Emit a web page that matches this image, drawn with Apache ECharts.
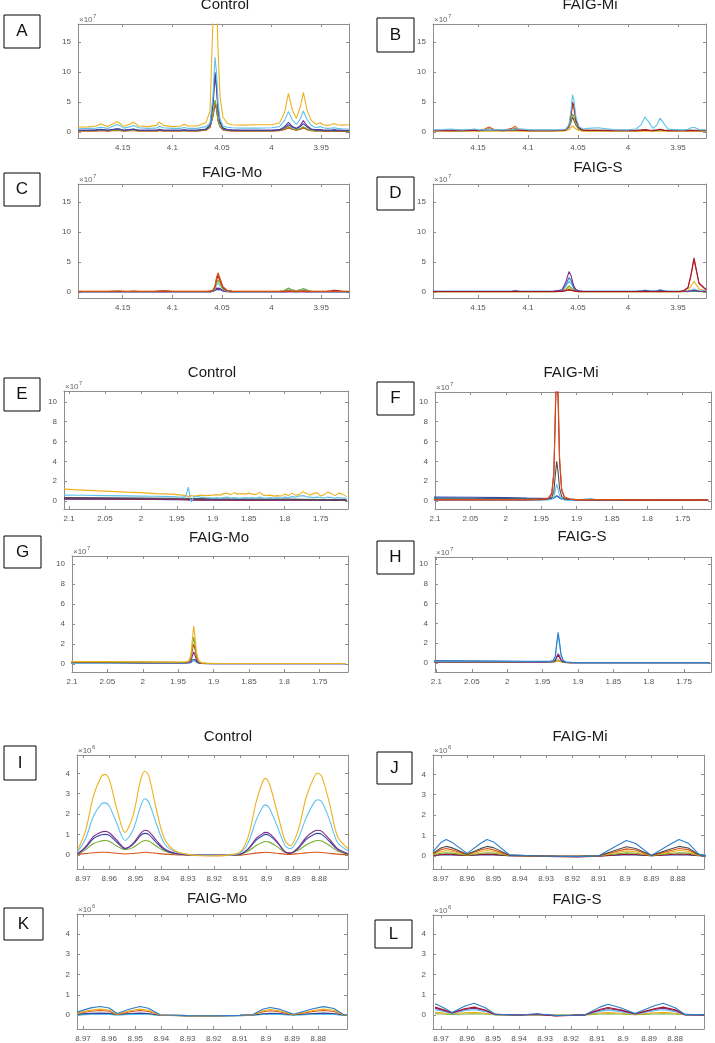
<!DOCTYPE html>
<html><head><meta charset="utf-8">
<script src="https://cdn.jsdelivr.net/npm/echarts@6/dist/echarts.min.js"></script>
<style>html,body{margin:0;padding:0;background:#fff}#c{width:715px;height:1043px}</style>
</head><body><div id="c"></div>
<script>
// ---------- tick labels ----------
const xTicksR1 = [4.15, 4.1, 4.05, 4, 3.95];
const yTicksR1 = [0, 5, 10, 15];
const xTicksR2 = [2.1, 2.05, 2, 1.95, 1.9, 1.85, 1.8, 1.75];
const yTicksR2 = [0, 2, 4, 6, 8, 10];
const xTicksR3 = [8.97, 8.96, 8.95, 8.94, 8.93, 8.92, 8.91, 8.9, 8.89, 8.88];
const yTicksR3 = [0, 1, 2, 3, 4];

// ---------- row 1 (ppm 4.195 - 3.922), values x1e7 ----------
const xR1 = [4.195,4.185,4.177,4.172,4.165,4.156,4.153,4.149,4.143,4.139, 4.134,4.125,4.116,4.113,4.109,4.1,4.092,4.088,4.084,4.075, 4.066,4.062,4.059,4.057,4.0555,4.054,4.052,4.049,4.045,4.04, 4.03,4.015,4.0,3.992,3.987,3.983,3.979,3.975,3.971,3.968, 3.964,3.96,3.955,3.951,3.948,3.944,3.94,3.937,3.934,3.929,3.922];

const A_yellow = [0.8,0.85,1.0,1.35,0.9,1.7,1.5,0.95,1.3,1.65, 1.0,0.9,1.1,1.65,1.1,0.9,0.95,1.3,1.0,1.0, 1.6,3.5,19,30,24,14,6,2.5,1.5,1.2, 1.15,1.2,1.2,1.5,3.2,6.45,3.6,2.3,4.2,6.6, 3.5,1.9,1.3,1.55,1.2,1.1,1.2,1.4,1.2,1.15,1.2];
const A_lightblue = [0.55,0.6,0.65,0.8,0.6,1.25,1.1,0.65,0.85,1.1, 0.7,0.6,0.65,0.95,0.7,0.6,0.6,0.75,0.6,0.6, 0.9,1.5,6,12.5,10,5,2.2,1.0,0.8,0.7, 0.65,0.65,0.7,0.9,1.9,3.4,2.0,1.25,2.2,3.5, 2.0,1.1,0.7,0.9,0.7,0.6,0.65,0.7,0.6,0.55,0.5];
const A_navy = [0.3,0.3,0.35,0.45,0.3,0.55,0.5,0.3,0.4,0.5, 0.3,0.3,0.3,0.45,0.3,0.3,0.3,0.35,0.3,0.3, 0.5,1.2,5,10,8,4,1.8,0.7,0.4,0.35, 0.3,0.3,0.3,0.4,0.9,1.6,0.9,0.6,0.9,1.4, 0.8,0.45,0.35,0.4,0.3,0.3,0.3,0.35,0.3,0.3,0.25];
const A_purple = [0.3,0.3,0.3,0.4,0.3,0.5,0.45,0.3,0.35,0.45, 0.3,0.3,0.3,0.4,0.3,0.3,0.3,0.3,0.3,0.3, 0.45,1.1,4.5,9.2,7.4,3.7,1.6,0.6,0.4,0.3, 0.3,0.3,0.3,0.35,0.7,1.2,0.8,0.6,1.1,1.9, 1.0,0.5,0.35,0.4,0.3,0.3,0.3,0.35,0.3,0.3,0.25];
const A_green = [0.2,0.2,0.2,0.3,0.2,0.35,0.3,0.2,0.25,0.3, 0.2,0.2,0.2,0.3,0.2,0.2,0.2,0.25,0.2,0.2, 0.35,0.9,3,5.3,4.3,2.2,1.0,0.4,0.3,0.25, 0.2,0.2,0.2,0.3,0.6,0.9,0.55,0.4,0.6,0.9, 0.5,0.3,0.2,0.25,0.2,0.2,0.2,0.25,0.2,0.2,0.2];
const A_orange = [0.15,0.15,0.15,0.2,0.15,0.25,0.2,0.15,0.2,0.2, 0.15,0.15,0.15,0.2,0.15,0.15,0.15,0.2,0.15,0.15, 0.3,0.8,2.8,4.9,4.0,2.0,0.9,0.35,0.2,0.15, 0.15,0.15,0.15,0.2,0.4,0.7,0.45,0.3,0.45,0.7, 0.4,0.2,0.15,0.2,0.15,0.15,0.15,0.2,0.15,0.15,0.15];
const A_gray = [0.25,0.25,0.25,0.3,0.25,0.35,0.3,0.25,0.25,0.3, 0.25,0.25,0.25,0.3,0.25,0.25,0.25,0.25,0.25,0.25, 0.35,0.8,2.6,4.7,3.8,1.9,0.9,0.4,0.25,0.25, 0.2,0.2,0.2,0.25,0.45,0.7,0.45,0.35,0.45,0.7, 0.4,0.25,0.2,0.2,0.15,0.15,0.15,0.15,0.1,0.1,0.05];

const B_lightblue = [0.35,0.4,0.5,0.4,0.35,0.45,0.5,0.35,0.35,0.4, 0.35,0.35,0.4,0.45,0.55,0.4,0.35,0.35,0.35,0.35, 0.4,0.5,1.2,3.5,6.2,5.2,2.4,0.9,0.5,0.6, 0.7,0.4,0.35,0.5,1.2,2.5,1.6,0.6,1.2,2.3, 1.4,0.5,0.4,0.4,0.35,0.35,0.45,0.7,0.8,0.4,0.35];
const B_darkred = [0.2,0.2,0.2,0.25,0.2,0.25,0.25,0.2,0.3,0.45, 0.3,0.2,0.35,0.5,0.3,0.2,0.2,0.2,0.2,0.2, 0.3,0.4,1.1,3.0,5.0,4.3,2.0,0.7,0.3,0.25, 0.25,0.2,0.2,0.2,0.25,0.35,0.25,0.2,0.3,0.45, 0.3,0.2,0.2,0.2,0.2,0.2,0.2,0.25,0.2,0.2,0.2];
const B_orange = [0.25,0.25,0.25,0.3,0.25,0.3,0.3,0.3,0.5,0.85, 0.4,0.3,0.6,0.95,0.4,0.3,0.25,0.3,0.25,0.25, 0.3,0.4,1.0,2.6,4.4,3.8,1.8,0.7,0.35,0.3, 0.3,0.25,0.25,0.25,0.3,0.4,0.3,0.25,0.3,0.45, 0.3,0.25,0.25,0.25,0.25,0.25,0.25,0.3,0.25,0.25,0.25];
const B_green = [0.2,0.2,0.2,0.2,0.2,0.25,0.25,0.2,0.35,0.55, 0.3,0.2,0.4,0.6,0.3,0.2,0.2,0.2,0.2,0.2, 0.25,0.35,0.8,1.8,3.0,2.6,1.3,0.45,0.25,0.2, 0.2,0.2,0.2,0.2,0.25,0.3,0.25,0.2,0.25,0.3, 0.25,0.2,0.2,0.2,0.2,0.2,0.2,0.2,0.2,0.2,0.2];
const B_gray = [0.3,0.3,0.3,0.3,0.3,0.35,0.35,0.3,0.3,0.35, 0.3,0.3,0.3,0.35,0.3,0.3,0.3,0.3,0.3,0.3, 0.3,0.4,0.8,1.6,2.5,2.2,1.1,0.45,0.3,0.3, 0.3,0.3,0.3,0.3,0.35,0.4,0.3,0.3,0.35,0.4, 0.3,0.3,0.3,0.3,0.3,0.3,0.3,0.3,0.3,0.3,0.3];
const B_yellow = [0.15,0.15,0.15,0.15,0.15,0.15,0.15,0.15,0.15,0.15, 0.15,0.15,0.15,0.15,0.15,0.15,0.15,0.15,0.15,0.15, 0.15,0.2,0.4,0.7,1.0,0.9,0.5,0.25,0.15,0.15, 0.15,0.15,0.15,0.15,0.15,0.15,0.15,0.15,0.15,0.15, 0.15,0.15,0.15,0.15,0.15,0.15,0.15,0.15,0.15,0.15,0.15];

const C_orange = [0.1,0.1,0.1,0.1,0.1,0.12,0.12,0.1,0.1,0.12, 0.1,0.1,0.12,0.15,0.2,0.1,0.1,0.1,0.1,0.1, 0.1,0.12,0.35,1.0,2.4,3.2,2.3,0.9,0.3,0.12, 0.1,0.1,0.1,0.1,0.12,0.2,0.15,0.1,0.15,0.2, 0.12,0.1,0.1,0.1,0.1,0.1,0.1,0.12,0.1,0.1,0.1];
const C_darkred = [0.08,0.08,0.08,0.08,0.08,0.1,0.1,0.08,0.08,0.1, 0.08,0.08,0.1,0.12,0.15,0.08,0.08,0.08,0.08,0.08, 0.08,0.1,0.3,0.9,2.1,2.8,2.0,0.75,0.25,0.1, 0.08,0.08,0.08,0.08,0.1,0.15,0.12,0.08,0.12,0.15, 0.1,0.08,0.08,0.08,0.08,0.1,0.2,0.3,0.25,0.1,0.08];
const C_yellow = [0.12,0.12,0.12,0.12,0.12,0.14,0.14,0.12,0.12,0.14, 0.12,0.12,0.14,0.16,0.2,0.12,0.12,0.12,0.12,0.12, 0.12,0.14,0.3,0.85,1.9,2.5,1.8,0.7,0.25,0.14, 0.12,0.12,0.12,0.12,0.14,0.2,0.15,0.12,0.15,0.2, 0.14,0.12,0.12,0.12,0.12,0.12,0.12,0.14,0.12,0.12,0.12];
const C_green = [0.08,0.08,0.08,0.08,0.08,0.1,0.1,0.08,0.08,0.1, 0.08,0.08,0.1,0.12,0.15,0.08,0.08,0.08,0.08,0.08, 0.08,0.1,0.25,0.7,1.5,2.0,1.45,0.55,0.2,0.1, 0.08,0.08,0.08,0.1,0.3,0.65,0.35,0.2,0.35,0.55, 0.3,0.12,0.08,0.08,0.08,0.08,0.08,0.1,0.08,0.08,0.08];
const C_lightblue = [0.05,0.05,0.05,0.05,0.05,0.07,0.07,0.05,0.05,0.07, 0.05,0.05,0.07,0.09,0.1,0.05,0.05,0.05,0.05,0.05, 0.05,0.07,0.2,0.55,1.15,1.5,1.1,0.45,0.15,0.07, 0.05,0.05,0.05,0.07,0.25,0.5,0.3,0.2,0.35,0.6, 0.35,0.1,0.05,0.05,0.05,0.05,0.05,0.07,0.05,0.05,0.05];
const C_purple = [0.05,0.05,0.05,0.05,0.05,0.05,0.05,0.05,0.05,0.05, 0.05,0.05,0.05,0.05,0.05,0.05,0.05,0.05,0.05,0.05, 0.05,0.05,0.12,0.3,0.65,0.85,0.6,0.25,0.08,0.05, 0.05,0.05,0.05,0.05,0.05,0.05,0.05,0.05,0.05,0.05, 0.05,0.05,0.05,0.05,0.05,0.05,0.05,0.05,0.05,0.05,0.05];
const C_navy = [0.02,0.02,0.02,0.02,0.02,0.02,0.02,0.02,0.02,0.02, 0.02,0.02,0.02,0.02,0.02,0.02,0.02,0.02,0.02,0.02, 0.02,0.02,0.08,0.2,0.42,0.55,0.4,0.15,0.05,0.02, 0.02,0.02,0.02,0.02,0.02,0.04,0.03,0.02,0.03,0.04, 0.02,0.02,0.02,0.02,0.02,0.02,0.02,0.02,0.02,0.02,0.02];

const D_purple = [0.08,0.08,0.08,0.08,0.08,0.08,0.08,0.08,0.08,0.08, 0.08,0.08,0.1,0.12,0.1,0.08,0.08,0.08,0.08,0.08, 0.35,1.75,3.4,2.75,1.75,0.9,0.4,0.15,0.08,0.08, 0.08,0.08,0.08,0.08,0.1,0.15,0.1,0.08,0.1,0.15, 0.1,0.08,0.08,0.08,0.08,0.09,0.12,0.2,0.3,0.12,0.08];
const D_darkred = [0.08,0.08,0.08,0.08,0.08,0.08,0.08,0.08,0.08,0.08, 0.08,0.08,0.08,0.1,0.08,0.08,0.08,0.08,0.08,0.08, 0.1,0.25,0.4,0.35,0.25,0.15,0.1,0.08,0.08,0.08, 0.08,0.08,0.08,0.08,0.08,0.1,0.08,0.08,0.08,0.1, 0.08,0.08,0.08,0.08,0.08,0.25,0.75,2.9,5.7,1.5,0.4];
const D_orange = [0.06,0.06,0.06,0.06,0.06,0.06,0.06,0.06,0.06,0.06, 0.06,0.06,0.06,0.08,0.06,0.06,0.06,0.06,0.06,0.06, 0.08,0.2,0.3,0.26,0.2,0.12,0.08,0.06,0.06,0.06, 0.06,0.06,0.06,0.06,0.06,0.08,0.06,0.06,0.06,0.08, 0.06,0.06,0.06,0.06,0.06,0.22,0.7,2.75,5.4,1.4,0.38];
const D_blue = [0.1,0.1,0.1,0.1,0.1,0.1,0.1,0.1,0.1,0.1, 0.1,0.1,0.12,0.2,0.12,0.1,0.1,0.1,0.1,0.1, 0.28,1.25,2.4,1.95,1.25,0.65,0.3,0.14,0.1,0.1, 0.1,0.1,0.1,0.12,0.18,0.3,0.2,0.15,0.22,0.35, 0.2,0.12,0.1,0.1,0.1,0.1,0.12,0.15,0.2,0.12,0.1];
const D_lightblue = [0.12,0.12,0.12,0.12,0.12,0.12,0.12,0.12,0.12,0.12, 0.12,0.12,0.13,0.16,0.13,0.12,0.12,0.12,0.12,0.12, 0.25,0.95,1.8,1.45,0.95,0.5,0.25,0.14,0.12,0.12, 0.12,0.12,0.12,0.13,0.18,0.3,0.2,0.16,0.2,0.3, 0.18,0.13,0.12,0.12,0.12,0.13,0.17,0.3,0.5,0.2,0.12];
const D_green = [0.05,0.05,0.05,0.05,0.05,0.05,0.05,0.05,0.05,0.05, 0.05,0.05,0.05,0.07,0.05,0.05,0.05,0.05,0.05,0.05, 0.12,0.52,1.0,0.82,0.53,0.28,0.13,0.07,0.05,0.05, 0.05,0.05,0.05,0.05,0.06,0.1,0.07,0.05,0.07,0.1, 0.06,0.05,0.05,0.05,0.05,0.05,0.06,0.1,0.15,0.07,0.05];
const D_yellow = [0.04,0.04,0.04,0.04,0.04,0.04,0.04,0.04,0.04,0.04, 0.04,0.04,0.04,0.05,0.04,0.04,0.04,0.04,0.04,0.04, 0.09,0.37,0.7,0.58,0.38,0.2,0.09,0.05,0.04,0.04, 0.04,0.04,0.04,0.04,0.04,0.05,0.04,0.04,0.04,0.05, 0.04,0.04,0.04,0.04,0.04,0.09,0.25,0.95,1.8,0.5,0.15];

// ---------- row 2 (ppm 2.107 - 1.71), values x1e7 ----------
const xE = [2.107,2.08,2.05,2.02,2.0,1.98,1.96,1.95,1.942,1.938, 1.936,1.934,1.932,1.93,1.928,1.926,1.924,1.921,1.917,1.91, 1.9,1.895,1.89,1.885,1.88,1.875,1.87,1.865,1.86,1.855, 1.85,1.845,1.84,1.835,1.83,1.825,1.82,1.815,1.81,1.805, 1.8,1.795,1.79,1.785,1.78,1.775,1.77,1.765,1.76,1.755, 1.75,1.745,1.74,1.735,1.73,1.725,1.72,1.714];
const E_yellow = [1.2,1.1,1.0,0.9,0.85,0.75,0.7,0.65,0.6,0.55, 0.5,0.45,0.5,0.55,0.55,0.5,0.5,0.55,0.6,0.55, 0.6,0.65,0.6,0.75,0.8,0.65,0.85,0.7,0.75,0.7, 0.8,0.7,0.65,0.9,0.6,0.55,0.6,0.5,0.55,0.5, 0.7,0.55,0.8,0.6,0.65,0.95,0.8,0.6,0.75,0.85, 0.5,0.65,0.9,0.75,0.55,0.8,0.7,0.45];
const E_lightblue = [0.6,0.58,0.55,0.52,0.5,0.48,0.45,0.42,0.4,0.45, 0.9,1.4,0.5,-0.1,0.2,0.45,0.5,0.45,0.4,0.35, 0.3,0.35,0.3,0.35,0.4,0.3,0.35,0.3,0.3,0.35, 0.3,0.35,0.3,0.4,0.3,0.3,0.35,0.3,0.35,0.3, 0.4,0.35,0.45,0.4,0.5,0.55,0.45,0.4,0.35,0.4, 0.35,0.3,0.4,0.35,0.3,0.35,0.3,0.3];
const xEs = [2.107,2.0,1.96,1.94,1.93,1.92,1.9,1.85,1.8,1.75,1.714];
const E_gray = [0.35,0.3,0.28,0.28,0.25,0.25,0.22,0.2,0.2,0.15,0.1];
const E_darkred = [0.25,0.2,0.18,0.15,0.12,0.12,0.12,0.1,0.12,0.15,0.12];
const E_navy = [0.2,0.18,0.15,0.15,0.12,0.1,0.1,0.1,0.08,0.08,0.05];
const E_purple = [0.3,0.25,0.22,0.2,0.2,0.18,0.18,0.15,0.15,0.12,0.1];

const xFGH = [2.107,2.05,2.0,1.97,1.95,1.94,1.935,1.932,1.93,1.928, 1.926,1.924,1.921,1.917,1.91,1.9,1.88,1.87,1.85,1.8,1.75,1.714];
const F_orange = [0.15,0.15,0.15,0.15,0.2,0.3,0.8,3,9,16, 11,4.5,1.2,0.4,0.2,0.15,0.15,0.15,0.15,0.12,0.12,0.1];
const F_darkred = [0.12,0.12,0.12,0.12,0.15,0.25,0.7,2.8,8.5,14, 10,4,1.1,0.35,0.18,0.12,0.12,0.12,0.12,0.1,0.1,0.1];
const F_gray = [0.2,0.2,0.2,0.2,0.2,0.25,0.35,1.0,2.6,4.0, 2.9,1.3,0.45,0.22,0.2,0.15,0.15,0.15,0.12,0.12,0.1,0.1];
const F_lightblue = [0.1,0.1,0.1,0.1,0.1,0.12,0.18,0.45,1.1,1.7, 1.2,0.55,0.2,0.12,0.1,0.1,0.25,0.12,0.1,0.1,0.08,0.08];
const F_blue = [0.3,0.28,0.25,0.22,0.2,0.2,0.22,0.3,0.42,0.5, 0.42,0.3,0.2,0.15,0.12,0.12,0.12,0.1,0.1,0.1,0.08,0.08];
const F_navy = [0.4,0.38,0.35,0.3,0.27,0.25,0.27,0.35,0.45,0.55, 0.45,0.33,0.22,0.18,0.15,0.15,0.13,0.12,0.12,0.1,0.1,0.1];

const G_yellow = [0.25,0.25,0.22,0.2,0.2,0.22,0.3,0.9,2.4,3.8, 2.6,1.1,0.35,0.12,0.08,0.06,0.05,0.05,0.05,0.05,0.05,0.05];
const G_green = [0.2,0.2,0.18,0.17,0.17,0.18,0.25,0.65,1.7,2.7, 1.9,0.8,0.25,0.1,0.07,0.05,0.05,0.05,0.05,0.05,0.05,0.05];
const G_orange = [0.2,0.18,0.17,0.16,0.15,0.16,0.2,0.5,1.3,2.0, 1.4,0.6,0.2,0.08,0.06,0.05,0.05,0.05,0.05,0.05,0.05,0.05];
const G_purple = [0.15,0.15,0.14,0.13,0.12,0.13,0.15,0.3,0.8,1.2, 0.85,0.38,0.14,0.06,0.05,0.04,0.04,0.04,0.04,0.04,0.04,0.04];
const G_navy = [0.12,0.12,0.11,0.1,0.1,0.1,0.12,0.2,0.42,0.6, 0.45,0.22,0.1,0.05,0.04,0.04,0.04,0.04,0.04,0.04,0.04,0.04];
const G_lightblue = [0.08,0.08,0.07,0.07,0.07,0.07,0.08,0.12,0.25,0.35, 0.27,0.14,0.07,0.06,0.05,0.05,0.05,0.05,0.05,0.05,0.05,0.05];

const H_blue = [0.25,0.22,0.2,0.18,0.17,0.18,0.25,0.7,2.0,3.1, 2.1,0.9,0.28,0.1,0.07,0.05,0.05,0.05,0.05,0.05,0.05,0.05];
const H_lightblue = [0.2,0.18,0.16,0.15,0.14,0.15,0.22,0.6,1.8,2.8, 1.9,0.8,0.25,0.1,0.07,0.05,0.05,0.05,0.05,0.05,0.05,0.05];
const H_purple = [0.15,0.14,0.13,0.12,0.12,0.13,0.17,0.3,0.65,0.95, 0.7,0.35,0.15,0.07,0.05,0.04,0.04,0.04,0.04,0.04,0.04,0.04];
const H_darkred = [0.12,0.12,0.11,0.1,0.1,0.11,0.14,0.25,0.55,0.8, 0.6,0.3,0.12,0.06,0.04,0.04,0.04,0.04,0.04,0.04,0.04,0.04];
const H_green = [0.1,0.1,0.09,0.08,0.08,0.08,0.1,0.15,0.25,0.35, 0.28,0.15,0.08,0.05,0.04,0.04,0.04,0.04,0.04,0.04,0.04,0.04];
const H_yellow = [0.18,0.17,0.15,0.13,0.12,0.12,0.13,0.15,0.18,0.2, 0.17,0.13,0.1,0.06,0.05,0.04,0.04,0.04,0.04,0.04,0.04,0.04];

// ---------- row 3 (ppm 8.972 - 8.869), values x1e6 ----------
const xI = [8.972,8.969,8.966,8.963,8.9615,8.96,8.957,8.954,8.951,8.948, 8.9465,8.945,8.942,8.939,8.935,8.93,8.925,8.92,8.915,8.91, 8.907,8.904,8.9015,8.9005,8.899,8.896,8.893,8.891,8.888,8.885, 8.882,8.8805,8.879,8.876,8.873,8.869];
const I_yellow = [0.25,1.2,2.9,3.85,3.95,3.7,2.2,1.1,1.9,3.7, 4.1,3.9,2.2,0.8,0.2,0.02,-0.05,-0.05,-0.02,0.15, 0.9,2.6,3.6,3.75,3.5,2.1,0.7,0.45,1.2,2.8, 3.8,4.0,3.85,2.5,0.9,0.3];
const I_lightblue = [0.15,0.8,1.9,2.5,2.55,2.4,1.5,0.7,1.2,2.4, 2.75,2.6,1.5,0.55,0.15,0.02,-0.03,-0.03,-0.02,0.1, 0.6,1.7,2.35,2.45,2.3,1.4,0.45,0.3,0.8,1.8, 2.55,2.7,2.6,1.7,0.6,0.2];
const I_purple = [0.05,0.4,0.9,1.12,1.15,1.08,0.7,0.32,0.55,1.05, 1.2,1.15,0.7,0.3,0.08,0.0,-0.02,-0.02,-0.01,0.04, 0.3,0.8,1.05,1.1,1.05,0.65,0.15,0.08,0.35,0.85, 1.15,1.2,1.15,0.75,0.3,0.05];
const I_navy = [0.03,0.35,0.8,0.98,1.0,0.95,0.6,0.3,0.5,0.95, 1.05,1.0,0.6,0.25,0.06,0.0,-0.02,-0.02,-0.01,0.03, 0.28,0.72,0.95,1.0,0.95,0.6,0.14,0.07,0.3,0.75, 1.0,1.05,1.0,0.65,0.25,0.04];
const I_green = [0.0,0.25,0.55,0.68,0.7,0.66,0.42,0.25,0.35,0.62, 0.7,0.68,0.42,0.18,0.05,0.0,-0.03,-0.03,-0.02,0.02, 0.18,0.45,0.62,0.65,0.62,0.4,0.12,0.08,0.22,0.48, 0.66,0.7,0.67,0.45,0.18,0.02];
const I_orange = [0.02,0.06,0.1,0.12,0.12,0.11,0.07,0.04,0.06,0.1, 0.12,0.11,0.07,0.03,0.0,-0.02,-0.04,-0.05,-0.04,-0.02, 0.03,0.08,0.11,0.12,0.11,0.07,0.03,0.02,0.05,0.09, 0.12,0.12,0.11,0.07,0.03,0.0];

const xJ = [8.973,8.970,8.968,8.966,8.960,8.955,8.9525,8.950,8.944,8.935, 8.925,8.918,8.91,8.903,8.8995,8.896,8.89,8.883,8.8795,8.876, 8.872,8.869];
const J_blue = [0.2,0.65,0.8,0.68,0.12,0.6,0.8,0.68,0.05,0.0, -0.02,-0.04,0.0,0.5,0.75,0.6,0.02,0.55,0.8,0.62, 0.08,0.0];
const J_gray = [0.12,0.38,0.46,0.4,0.08,0.35,0.46,0.4,0.03,0.0, -0.02,-0.03,0.0,0.3,0.44,0.36,0.02,0.32,0.46,0.38, 0.05,0.0];
const J_orange = [0.1,0.3,0.36,0.3,0.06,0.28,0.36,0.3,0.02,0.0, -0.02,-0.03,0.0,0.22,0.34,0.28,0.01,0.25,0.36,0.3, 0.04,0.0];
const J_yellow = [0.07,0.2,0.26,0.22,0.05,0.2,0.26,0.22,0.02,0.0, -0.02,-0.02,0.0,0.16,0.24,0.2,0.01,0.18,0.26,0.22, 0.03,0.0];
const J_green = [0.04,0.12,0.15,0.13,0.03,0.11,0.15,0.13,0.01,0.0, -0.02,-0.02,0.0,0.1,0.14,0.12,0.01,0.11,0.15,0.13, 0.02,0.0];
const J_darkred = [0.02,0.06,0.08,0.07,0.02,0.06,0.08,0.07,0.0,-0.02, -0.04,-0.06,-0.02,0.05,0.08,0.06,0.0,0.06,0.09,0.07, 0.01,-0.01];
const J_navy = [0.01,0.04,0.05,0.04,0.01,0.04,0.05,0.04,0.0,-0.01, -0.02,-0.02,-0.01,0.03,0.05,0.04,0.0,0.04,0.05,0.04, 0.0,0.0];

const xK = [8.9723,8.967,8.9635,8.960,8.957,8.952,8.9482,8.945,8.9405,8.93, 8.92,8.91,8.905,8.901,8.8984,8.895,8.8895,8.882,8.878,8.874, 8.8704,8.869];
const K_blue = [0.15,0.36,0.43,0.35,0.08,0.3,0.43,0.34,0.02,-0.02, -0.03,-0.01,0.03,0.3,0.38,0.3,0.05,0.32,0.42,0.33, 0.03,0.0];
const K_yellow = [0.1,0.25,0.3,0.25,0.05,0.22,0.3,0.24,0.01,-0.02, -0.03,-0.01,0.02,0.22,0.28,0.22,0.03,0.23,0.3,0.24, 0.02,0.0];
const K_orange = [0.08,0.19,0.23,0.19,0.04,0.17,0.23,0.18,0.01,-0.02, -0.03,-0.01,0.02,0.17,0.22,0.17,0.02,0.18,0.23,0.18, 0.02,0.0];
const K_navy = [0.05,0.09,0.1,0.09,0.04,0.08,0.1,0.08,0.0,-0.02, -0.02,-0.01,0.01,0.07,0.09,0.08,0.02,0.08,0.1,0.08, 0.01,0.0];
const K_lightblue = [0.0,0.04,0.05,0.04,0.0,0.03,0.05,0.04,0.0,-0.03, -0.04,-0.02,0.0,0.03,0.05,0.04,0.0,0.04,0.05,0.04, 0.0,0.0];
const K_green = [0.02,0.05,0.06,0.05,0.02,0.05,0.06,0.05,0.0,-0.04, -0.05,-0.03,0.0,0.05,0.06,0.05,0.01,0.05,0.06,0.05, 0.0,0.0];

const xL = [8.9723,8.969,8.9658,8.961,8.9573,8.953,8.9492,8.94,8.933,8.926, 8.92,8.9146,8.909,8.9058,8.901,8.8954,8.888,8.8846,8.88,8.8762, 8.8688];
const L_blue = [0.55,0.35,0.12,0.42,0.57,0.35,0.03,-0.01,0.05,-0.03, -0.02,0.0,0.38,0.52,0.35,0.06,0.45,0.57,0.35,0.02, 0.0];
const L_darkred = [0.38,0.25,0.1,0.3,0.38,0.24,0.02,-0.01,0.03,-0.06, -0.03,0.0,0.26,0.36,0.25,0.05,0.3,0.38,0.25,0.01, 0.0];
const L_purple = [0.33,0.22,0.09,0.26,0.33,0.21,0.02,-0.01,0.02,-0.04, -0.02,0.0,0.23,0.31,0.22,0.04,0.26,0.33,0.22,0.01, 0.0];
const L_lightblue = [0.25,0.17,0.07,0.2,0.25,0.16,0.01,0.0,0.02,-0.02, -0.01,0.0,0.17,0.23,0.16,0.03,0.2,0.25,0.16,0.01, 0.0];
const L_yellow = [0.12,0.09,0.05,0.1,0.12,0.08,0.01,0.0,0.01,-0.01, 0.0,0.0,0.09,0.11,0.08,0.02,0.1,0.12,0.08,0.01, 0.0];
const L_green = [0.05,0.04,0.02,0.04,0.05,0.04,0.0,0.0,0.0,-0.01, 0.0,0.0,0.04,0.05,0.04,0.01,0.04,0.05,0.04,0.0, 0.0];

// ---------- styling / layout ----------
const COL = {blue:'#2F7DC6', navy:'#34469C', orange:'#D95319', yellow:'#EDB120', purple:'#7E2F8E',
  green:'#77AC30', lightblue:'#5EC2EC', darkred:'#A2142F', gray:'#4D4D4D'};
const FONT = 'Liberation Sans, Arial, sans-serif';

const panels = [
  {id:'A', title:'Control', rect:[78,24,271,114], xr:[3.922,4.195], yr:[-1,18], xt:xTicksR1, yt:yTicksR1, exp:'7', tp:[225,5], box:[4,15,36,33]},
  {id:'B', title:'FAIG-Mi', rect:[433,24,273,114], xr:[3.922,4.195], yr:[-1,18], xt:xTicksR1, yt:yTicksR1, exp:'7', tp:[590,5], box:[377,18,37,34]},
  {id:'C', title:'FAIG-Mo', rect:[78,184,271,114], xr:[3.922,4.195], yr:[-1,18], xt:xTicksR1, yt:yTicksR1, exp:'7', tp:[232,173], box:[4,173,36,33]},
  {id:'D', title:'FAIG-S', rect:[433,184,273,114], xr:[3.922,4.195], yr:[-1,18], xt:xTicksR1, yt:yTicksR1, exp:'7', tp:[598,168], box:[377,177,37,33]},
  {id:'E', title:'Control', rect:[64,391,284,118], xr:[1.712,2.107], yr:[-0.8,11.1], xt:xTicksR2, yt:yTicksR2, exp:'7', tp:[212,373], box:[4,378,36,33]},
  {id:'F', title:'FAIG-Mi', rect:[435,392,276,117], xr:[1.71,2.1], yr:[-0.8,11], xt:xTicksR2, yt:yTicksR2, exp:'7', tp:[571,373], box:[377,382,37,33]},
  {id:'G', title:'FAIG-Mo', rect:[72,556,276,116], xr:[1.71,2.1], yr:[-0.8,10.8], xt:xTicksR2, yt:yTicksR2, exp:'7', tp:[219,538], box:[4,536,37,32]},
  {id:'H', title:'FAIG-S', rect:[435,557,276,115], xr:[1.712,2.102], yr:[-0.9,10.7], xt:xTicksR2, yt:yTicksR2, exp:'7', tp:[582,537], box:[377,541,37,33]},
  {id:'I', title:'Control', rect:[77,755,271,114], xr:[8.869,8.9723], yr:[-0.7,4.9], xt:xTicksR3, yt:yTicksR3, exp:'6', tp:[228,737], box:[4,746,32,34]},
  {id:'J', title:'FAIG-Mi', rect:[433,755,271,114], xr:[8.87,8.973], yr:[-0.65,4.95], xt:xTicksR3, yt:yTicksR3, exp:'6', tp:[580,737], box:[377,752,35,32]},
  {id:'K', title:'FAIG-Mo', rect:[77,914,270,116], xr:[8.869,8.9723], yr:[-0.68,4.98], xt:xTicksR3, yt:yTicksR3, exp:'6', tp:[217,899], box:[4,908,39,32]},
  {id:'L', title:'FAIG-S', rect:[433,915,271,115], xr:[8.8689,8.9731], yr:[-0.7,4.93], xt:xTicksR3, yt:yTicksR3, exp:'6', tp:[577,900], box:[375,920,37,28]}
];

const seriesDefs = [
  [0,xR1,A_gray,'gray'],[0,xR1,A_orange,'orange'],[0,xR1,A_green,'green'],[0,xR1,A_purple,'purple'],[0,xR1,A_navy,'navy'],[0,xR1,A_lightblue,'lightblue'],[0,xR1,A_yellow,'yellow'],
  [1,xR1,B_yellow,'yellow'],[1,xR1,B_gray,'gray'],[1,xR1,B_green,'green'],[1,xR1,B_orange,'orange'],[1,xR1,B_darkred,'darkred'],[1,xR1,B_lightblue,'lightblue'],
  [2,xR1,C_navy,'navy'],[2,xR1,C_purple,'purple'],[2,xR1,C_lightblue,'lightblue'],[2,xR1,C_green,'green'],[2,xR1,C_yellow,'yellow'],[2,xR1,C_darkred,'darkred'],[2,xR1,C_orange,'orange'],
  [3,xR1,D_yellow,'yellow'],[3,xR1,D_green,'green'],[3,xR1,D_lightblue,'lightblue'],[3,xR1,D_blue,'blue'],[3,xR1,D_purple,'purple'],[3,xR1,D_orange,'orange'],[3,xR1,D_darkred,'darkred'],
  [4,xEs,E_navy,'navy'],[4,xEs,E_darkred,'darkred'],[4,xEs,E_purple,'purple'],[4,xEs,E_gray,'gray'],[4,xE,E_yellow,'yellow'],[4,xE,E_lightblue,'lightblue'],
  [5,xFGH,F_navy,'navy'],[5,xFGH,F_blue,'blue'],[5,xFGH,F_lightblue,'lightblue'],[5,xFGH,F_gray,'gray'],[5,xFGH,F_darkred,'darkred'],[5,xFGH,F_orange,'orange'],
  [6,xFGH,G_lightblue,'lightblue'],[6,xFGH,G_navy,'navy'],[6,xFGH,G_purple,'purple'],[6,xFGH,G_orange,'orange'],[6,xFGH,G_green,'green'],[6,xFGH,G_yellow,'yellow'],
  [7,xFGH,H_yellow,'yellow'],[7,xFGH,H_green,'green'],[7,xFGH,H_darkred,'darkred'],[7,xFGH,H_purple,'purple'],[7,xFGH,H_lightblue,'lightblue'],[7,xFGH,H_blue,'blue'],
  [8,xI,I_orange,'orange'],[8,xI,I_green,'green'],[8,xI,I_navy,'navy'],[8,xI,I_purple,'purple'],[8,xI,I_lightblue,'lightblue'],[8,xI,I_yellow,'yellow'],
  [9,xJ,J_navy,'navy'],[9,xJ,J_darkred,'darkred'],[9,xJ,J_green,'green'],[9,xJ,J_yellow,'yellow'],[9,xJ,J_orange,'orange'],[9,xJ,J_gray,'gray'],[9,xJ,J_blue,'blue'],
  [10,xK,K_green,'green'],[10,xK,K_lightblue,'lightblue'],[10,xK,K_navy,'navy'],[10,xK,K_orange,'orange'],[10,xK,K_yellow,'yellow'],[10,xK,K_blue,'blue'],
  [11,xL,L_green,'green'],[11,xL,L_yellow,'yellow'],[11,xL,L_lightblue,'lightblue'],[11,xL,L_purple,'purple'],[11,xL,L_darkred,'darkred'],[11,xL,L_blue,'blue']
];

const AX = '#8e8e8e';
const fmt = v => String(Number((+v).toFixed(3)));
const grid = [], xAxis = [], yAxis = [], graphic = [];

panels.forEach((p, i) => {
  const [l, t, w, h] = p.rect;
  grid.push({left:l, top:t, width:w, height:h, show:false, containLabel:false});
  const baseX = {type:'value', gridIndex:i, min:p.xr[0], max:p.xr[1], inverse:true,
    axisLine:{show:true, onZero:false, lineStyle:{color:AX, width:1}},
    splitLine:{show:false}};
  xAxis.push(Object.assign({}, baseX, {position:'bottom',
    axisTick:{show:true, inside:true, length:3, customValues:p.xt, lineStyle:{color:AX}},
    axisLabel:{show:true, customValues:p.xt, formatter:fmt, color:'#555', fontSize:8, margin:6, fontFamily:FONT}}));
  xAxis.push(Object.assign({}, baseX, {position:'top',
    axisTick:{show:true, inside:true, length:3, customValues:p.xt, lineStyle:{color:AX}},
    axisLabel:{show:false}}));
  const baseY = {type:'value', gridIndex:i, min:p.yr[0], max:p.yr[1],
    axisLine:{show:true, onZero:false, lineStyle:{color:AX, width:1}},
    splitLine:{show:false}};
  yAxis.push(Object.assign({}, baseY, {position:'left',
    axisTick:{show:true, inside:true, length:3, customValues:p.yt, lineStyle:{color:AX}},
    axisLabel:{show:true, customValues:p.yt, formatter:fmt, color:'#555', fontSize:8, margin:7, fontFamily:FONT}}));
  yAxis.push(Object.assign({}, baseY, {position:'right',
    axisTick:{show:true, inside:true, length:3, customValues:p.yt, lineStyle:{color:AX}},
    axisLabel:{show:false}}));

  const [bx, by, bw, bh] = p.box;
  graphic.push({type:'rect', shape:{x:bx, y:by, width:bw, height:bh}, style:{fill:'#fff', stroke:'#000', lineWidth:1}, z:10});
  graphic.push({type:'text', x:bx + bw/2, y:by + bh/2, z:11,
    style:{text:p.id, font:'17px ' + FONT, fill:'#111', textAlign:'center', textVerticalAlign:'middle'}});
  graphic.push({type:'text', x:p.tp[0], y:p.tp[1], z:11,
    style:{text:p.title, font:'15px ' + FONT, fill:'#1a1a1a', textAlign:'center', textVerticalAlign:'middle'}});
  graphic.push({type:'text', x:l + 1, y:t - 4, z:11,
    style:{text:'×10', font:'8px ' + FONT, fill:'#666', textAlign:'left', textVerticalAlign:'middle'}});
  graphic.push({type:'text', x:l + 15, y:t - 8, z:11,
    style:{text:p.exp, font:'6px ' + FONT, fill:'#666', textAlign:'left', textVerticalAlign:'middle'}});
});

const series = seriesDefs.map(([pi, xs, ys, c]) => ({
  type:'line', xAxisIndex:2*pi, yAxisIndex:2*pi,
  data: xs.map((x, k) => [x, ys[k]]),
  showSymbol:false, symbol:'none', clip:true,
  smooth: pi === 8 ? 0.3 : false,
  lineStyle:{color:COL[c], width:1.1}, itemStyle:{color:COL[c]},
  emphasis:{disabled:true}, silent:true
}));

const chart = echarts.init(document.getElementById('c'), null, {renderer:'canvas'});
chart.setOption({animation:false, backgroundColor:'#fff', grid, xAxis, yAxis, series, graphic});
</script></body></html>
